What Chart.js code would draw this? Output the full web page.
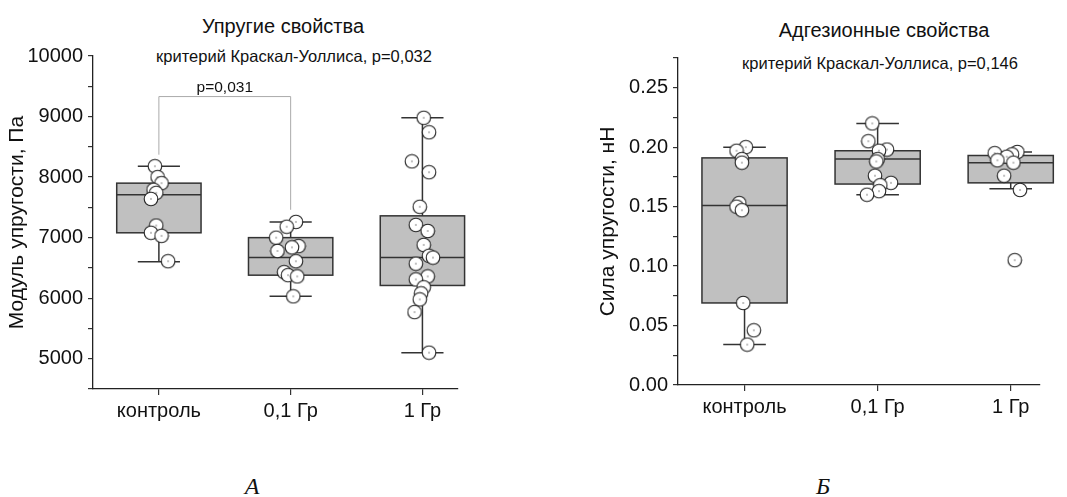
<!DOCTYPE html>
<html>
<head>
<meta charset="utf-8">
<script src="https://cdn.jsdelivr.net/npm/chart.js@4/dist/chart.umd.min.js"></script>
<style>
body{margin:0;width:1067px;height:497px;background:#fff;position:relative;overflow:hidden;font-family:"Liberation Sans",Arial,sans-serif;color:#111}
.panel{position:absolute;top:0;height:497px}
.t{position:absolute;white-space:nowrap;transform:translateX(-50%);line-height:1}
.title{font-size:20px}
.sub{font-size:16.5px}
.letter{font-family:"Liberation Serif","Times New Roman",serif;font-style:italic;font-size:24px}
</style>
</head>
<body>
<div class="t title" style="left:283px;top:16px">Упругие свойства</div>
<div class="t sub" style="left:294px;top:48px">критерий Краскал-Уоллиса, p=0,032</div>
<div class="t title" style="left:884px;top:20px">Адгезионные свойства</div>
<div class="t sub" style="left:880px;top:55px">критерий Краскал-Уоллиса, p=0,146</div>
<div class="t letter" style="left:252px;top:474px">А</div>
<div class="t letter" style="left:823px;top:474px">Б</div>

<div class="panel" style="left:0;width:540px"><canvas id="elastic"></canvas></div>
<div class="panel" style="left:560px;width:507px"><canvas id="adhesion"></canvas></div>

<script>
// groups
var groups = ['контроль', '0,1 Гр', '1 Гр'];

// elastic modulus, Pa: raw points per group and their horizontal jitter
var elCtrl = [8180, 8000, 7900, 7790, 7740, 7640, 7200, 7080, 7030, 6610];
var elCtrlJit = [-0.03, -0.01, 0.02, -0.04, -0.02, -0.06, -0.02, -0.06, 0.02, 0.07];
var elLow = [7260, 7180, 7000, 6860, 6840, 6780, 6610, 6430, 6380, 6360, 6030];
var elLowJit = [0.04, -0.03, -0.11, 0.06, 0.01, -0.10, 0.04, -0.05, -0.02, 0.05, 0.02];
var elHigh = [8980, 8740, 8260, 8080, 7510, 7210, 7110, 6880, 6700, 6670, 6570, 6360, 6310, 6180, 6080, 5980, 5770, 5100];
var elHighJit = [0.01, 0.05, -0.08, 0.05, -0.02, -0.05, 0.04, 0.01, 0.05, 0.08, -0.05, 0.04, -0.05, 0.01, -0.01, -0.02, -0.06, 0.05];
// box stats
var elMin = [6600, 6030, 5100];
var elQ1 = [7080, 6380, 6210];
var elMed = [7710, 6670, 6670];
var elQ3 = [7900, 7000, 7360];
var elMax = [8180, 7260, 8980];
var elTicks = [5000, 6000, 7000, 8000, 9000, 10000];

// adhesion force, nN
var adCtrl = [0.200, 0.197, 0.190, 0.187, 0.153, 0.150, 0.147, 0.069, 0.046, 0.034];
var adCtrlJit = [0.01, -0.06, -0.02, -0.02, -0.04, -0.06, -0.02, -0.01, 0.07, 0.02];
var adLow = [0.220, 0.205, 0.198, 0.197, 0.190, 0.188, 0.176, 0.170, 0.168, 0.163, 0.160];
var adLowJit = [-0.04, -0.07, 0.07, 0.01, 0.0, -0.01, -0.02, 0.10, 0.02, 0.01, -0.08];
var adHigh = [0.196, 0.195, 0.194, 0.192, 0.189, 0.187, 0.176, 0.164, 0.105];
var adHighJit = [0.05, -0.12, 0.01, -0.03, -0.10, 0.02, -0.05, 0.07, 0.03];
var adMin = [0.034, 0.160, 0.165];
var adQ1 = [0.069, 0.169, 0.170];
var adMed = [0.151, 0.190, 0.187];
var adQ3 = [0.191, 0.197, 0.193];
var adMax = [0.200, 0.220, 0.196];

// pairwise comparison контроль vs 0,1 Гр
var pairText = 'p=0,031';
var pairTop = 9330, pairLeftEnd = 8370, pairRightEnd = 7460;

// open circle with a dot in the middle
function makeMarker() {
  var c = document.createElement('canvas');
  c.width = 16; c.height = 16;
  var g = c.getContext('2d');
  g.beginPath(); g.arc(8, 8, 6.8, 0, Math.PI * 2);
  g.fillStyle = '#fff'; g.fill();
  g.lineWidth = 1.1; g.strokeStyle = '#222'; g.stroke();
  g.beginPath(); g.arc(8, 8, 0.7, 0, Math.PI * 2);
  g.fillStyle = '#555'; g.fill();
  return c;
}
var marker = makeMarker();

const boxPlugin = {
  id: 'boxes',
  beforeDatasetsDraw(chart, args, opts) {
    const ctx = chart.ctx, x = chart.scales.x, y = chart.scales.y;
    ctx.save();
    ctx.strokeStyle = '#333';
    ctx.lineWidth = 1.5;
    opts.med.forEach(function(m, i) {
      var c = i + 1;
      var xc = x.getPixelForValue(c);
      var xl = x.getPixelForValue(c - 0.32), xr = x.getPixelForValue(c + 0.32);
      var cl = x.getPixelForValue(c - 0.16), cr = x.getPixelForValue(c + 0.16);
      var yMin = y.getPixelForValue(opts.min[i]), yMax = y.getPixelForValue(opts.max[i]);
      var yq1 = y.getPixelForValue(opts.q1[i]), yq3 = y.getPixelForValue(opts.q3[i]);
      var ym = y.getPixelForValue(m);
      ctx.beginPath();
      ctx.moveTo(xc, yMin); ctx.lineTo(xc, yMax);
      ctx.moveTo(cl, yMin); ctx.lineTo(cr, yMin);
      ctx.moveTo(cl, yMax); ctx.lineTo(cr, yMax);
      ctx.stroke();
      ctx.fillStyle = '#c0c0c0';
      ctx.fillRect(xl, yq3, xr - xl, yq1 - yq3);
      ctx.strokeRect(xl, yq3, xr - xl, yq1 - yq3);
      ctx.beginPath();
      ctx.moveTo(xl, ym); ctx.lineTo(xr, ym);
      ctx.stroke();
    });
    if (opts.pair) {
      var p = opts.pair;
      var x1 = x.getPixelForValue(1), x2 = x.getPixelForValue(2);
      var yt = y.getPixelForValue(p.top);
      ctx.strokeStyle = '#aaa';
      ctx.lineWidth = 1;
      ctx.beginPath();
      ctx.moveTo(x1, y.getPixelForValue(p.left));
      ctx.lineTo(x1, yt);
      ctx.lineTo(x2, yt);
      ctx.lineTo(x2, y.getPixelForValue(p.right));
      ctx.stroke();
      ctx.fillStyle = '#111';
      ctx.font = '15.5px "Liberation Sans", Arial, sans-serif';
      ctx.textAlign = 'center';
      ctx.textBaseline = 'alphabetic';
      ctx.fillText(p.text, (x1 + x2) / 2, yt - 5);
    }
    ctx.restore();
  }
};

function pts(vals, jit, i) {
  return vals.map(function(v, k) { return {x: i + 1 + jit[k], y: v}; });
}

function ds(data) {
  return {
    data: data,
    pointStyle: marker,
    pointRadius: 7,
    pointHoverRadius: 7,
    showLine: false
  };
}

var tickFont = {family: '"Liberation Sans", Arial, sans-serif', size: 20};

function makeOptions(cfg) {
  return {
    responsive: true,
    maintainAspectRatio: false,
    animation: false,
    layout: {padding: cfg.padding},
    plugins: {
      legend: {display: false},
      tooltip: {enabled: false},
      boxes: cfg.boxes
    },
    scales: {
      x: {
        type: 'linear',
        min: 0.5,
        max: cfg.xMax,
        afterBuildTicks: function(s) { s.ticks = groups.map(function(g, i) { return {value: i + 1}; }); },
        afterFit: function(s) { s.height = 40; },
        ticks: {
          color: '#111',
          font: tickFont,
          padding: 4,
          maxRotation: 0,
          callback: function(v) { return groups[v - 1]; }
        },
        grid: {display: true, drawOnChartArea: false, drawTicks: true, tickLength: 6, color: '#333', lineWidth: 1.2},
        border: {display: true, color: '#222', width: 1.3}
      },
      y: {
        min: cfg.yMin,
        max: cfg.yMax,
        afterFit: function(s) { s.width = cfg.yWidth; },
        ticks: {
          stepSize: cfg.step,
          color: '#111',
          font: tickFont,
          padding: 5,
          callback: cfg.label
        },
        grid: {display: true, drawOnChartArea: false, drawTicks: true, tickLength: 5, color: '#333', lineWidth: 1.2},
        border: {display: true, color: '#222', width: 1.3},
        title: {
          display: true,
          text: cfg.yTitle,
          color: '#111',
          font: {family: '"Liberation Sans", Arial, sans-serif', size: 21},
          padding: {top: cfg.titlePad, bottom: 0}
        }
      }
    }
  };
}

new Chart(document.getElementById('elastic'), {
  type: 'scatter',
  data: {
    datasets: [
      ds(pts(elCtrl, elCtrlJit, 0)),
      ds(pts(elLow, elLowJit, 1)),
      ds(pts(elHigh, elHighJit, 2))
    ]
  },
  options: makeOptions({
    padding: {top: 56, right: 82, bottom: 68, left: 0},
    xMax: 3.27,
    yMin: 4500, yMax: 10000, step: 500, yWidth: 93, titlePad: 5,
    yTitle: 'Модуль упругости, Па',
    label: function(v) { return elTicks.indexOf(v) >= 0 ? String(v) : ''; },
    boxes: {min: elMin, q1: elQ1, med: elMed, q3: elQ3, max: elMax,
      pair: {top: pairTop, left: pairLeftEnd, right: pairRightEnd, text: pairText}}
  }),
  plugins: [boxPlugin]
});

new Chart(document.getElementById('adhesion'), {
  type: 'scatter',
  data: {
    datasets: [
      ds(pts(adCtrl, adCtrlJit, 0)),
      ds(pts(adLow, adLowJit, 1)),
      ds(pts(adHigh, adHighJit, 2))
    ]
  },
  options: makeOptions({
    padding: {top: 58, right: 27, bottom: 72, left: 0},
    xMax: 3.22,
    yMin: 0, yMax: 0.275, step: 0.025, yWidth: 118, titlePad: 36,
    yTitle: 'Сила упругости, нН',
    label: function(v) {
      var r = Math.round(v * 1000);
      return r % 50 === 0 ? (r / 1000).toFixed(2) : '';
    },
    boxes: {min: adMin, q1: adQ1, med: adMed, q3: adQ3, max: adMax}
  }),
  plugins: [boxPlugin]
});
</script>
</body>
</html>
